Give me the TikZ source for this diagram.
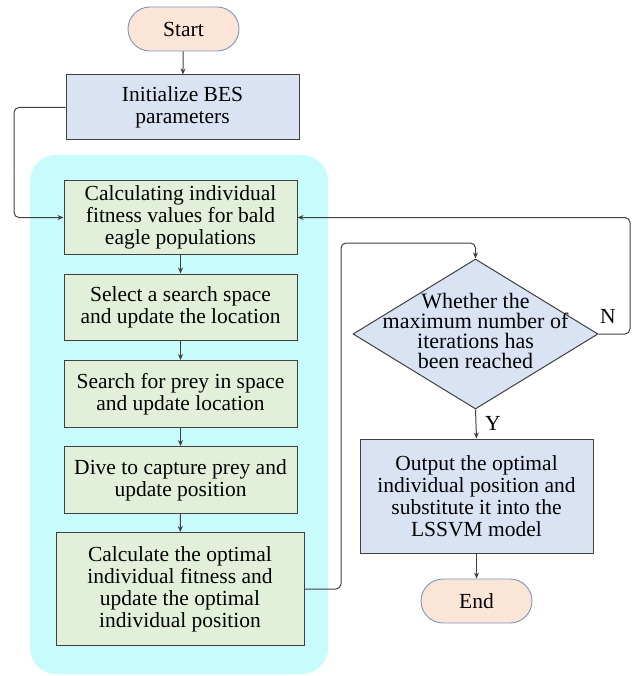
\documentclass[tikz,border=0pt]{standalone}
\usepackage{fontspec}
\setmainfont{Liberation Serif}
\usetikzlibrary{shapes.geometric,shapes.misc,arrows.meta}
\definecolor{peach}{HTML}{FBE5D6}
\definecolor{termline}{HTML}{7F93C0}
\definecolor{bluebox}{HTML}{DAE3F3}
\definecolor{greenbox}{HTML}{E2F0D9}
\definecolor{cyanbg}{HTML}{C8FCFC}
\definecolor{edge}{HTML}{404040}
\tikzset{
  terminal/.style={rounded rectangle, fill=peach, draw=termline, line width=0.9pt,
    minimum width=111pt, minimum height=44pt, inner sep=0pt,
    font=\fontsize{21.5}{22}\selectfont},
  bluestep/.style={rectangle, fill=bluebox, draw=edge, line width=1pt, align=center,
    inner sep=0pt, font=\fontsize{21.5}{22}\selectfont},
  greenstep/.style={rectangle, fill=greenbox, draw=edge, line width=1pt, align=center,
    inner sep=0pt, font=\fontsize{21.5}{22}\selectfont},
  decision/.style={diamond, fill=bluebox, draw=edge, line width=1pt, inner sep=0pt,
    minimum width=245pt, minimum height=150pt},
  conn/.style={draw=edge, line width=1pt, rounded corners=5pt,
    -{Stealth[length=6pt,width=5pt]}},
  lbl/.style={font=\fontsize{21.5}{22}\selectfont, inner sep=0pt}
}
\begin{document}
\begin{tikzpicture}[x=1pt,y=-1pt]
\useasboundingbox (0,0) rectangle (631,676);
\fill[cyanbg] (30,155) [rounded corners=26pt] rectangle (328,674);

\node[terminal] (start) at (183.5,29) {Start};
\node[bluestep, minimum width=233pt, minimum height=65pt] (init) at (182.5,107.5)
  {Initialize BES\\parameters};
\node[greenstep, minimum width=233pt, minimum height=73pt] (b1) at (180.5,217.5)
  {Calculating individual\\fitness values for bald\\eagle populations};
\node[greenstep, minimum width=233pt, minimum height=66pt] (b2) at (180.5,307)
  {Select a search space\\and update the location};
\node[greenstep, minimum width=233pt, minimum height=67pt] (b3) at (180.5,394)
  {Search for prey in space\\and update location};
\node[greenstep, minimum width=233pt, minimum height=67pt] (b4) at (180.5,480)
  {Dive to capture prey and\\update position};
\node[greenstep, minimum width=248pt, minimum height=113pt] (b5) at (180,589)
  {Calculate the optimal\\individual fitness and\\update the optimal\\individual position};

\node[decision] (dia) at (475.5,334) {};
\node[align=center, inner sep=0pt, font=\fontsize{22}{20}\selectfont] (diatext) at (475.5,331)
  {Whether the\\maximum number of\\iterations has\\been reached};

\node[bluestep, minimum width=233pt, minimum height=114pt] (out) at (476.5,496)
  {Output the optimal\\individual position and\\substitute it into the\\LSSVM model};
\node[terminal] (end) at (476.5,601) {End};

\coordinate (c1) at (14,107.5);
\coordinate (c2) at (341,243);
\coordinate (c3) at (630,217.5);

\draw[conn] (start) -- (init);
\draw[conn] (init.west) -- (c1) |- (b1.west);
\draw[conn] (b1) -- (b2);
\draw[conn] (b2) -- (b3);
\draw[conn] (b3) -- (b4);
\draw[conn] (b4) -- (b5);
\draw[conn] (b5.east) -| (c2) -| (dia.north);
\draw[conn] (dia.east) -| (c3) -- (b1.east);
\draw[conn] (dia.south) -- (out.north);
\draw[conn] (out) -- (end);

\node[lbl] (nlab) at (608,316) {N};
\node[lbl] (ylab) at (493,423) {Y};
\end{tikzpicture}
\end{document}
